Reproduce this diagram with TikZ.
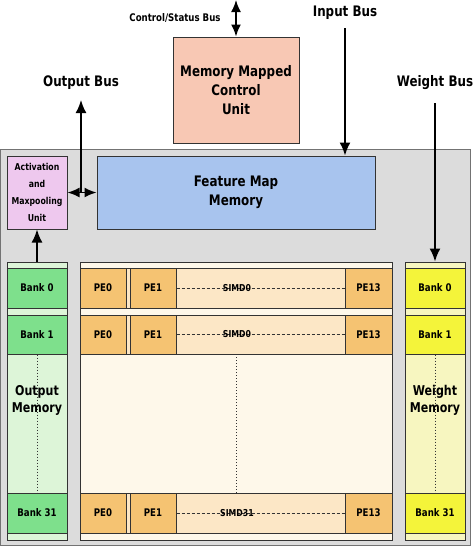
\documentclass[tikz,border=0pt]{standalone}
\usepackage{fontspec}
\setmainfont{DejaVu Sans}[FakeStretch=0.82]
\usetikzlibrary{arrows.meta}
\definecolor{bggray}{HTML}{DCDCDC}
\definecolor{salmon}{HTML}{F8C8B4}
\definecolor{pinkc}{HTML}{EEC8EE}
\definecolor{bluec}{HTML}{A8C4EE}
\definecolor{lgreen}{HTML}{DDF5D8}
\definecolor{gbank}{HTML}{7EE08C}
\definecolor{cream}{HTML}{FEF8EA}
\definecolor{rowc}{HTML}{FCE7C6}
\definecolor{pec}{HTML}{F5C372}
\definecolor{lyellow}{HTML}{F7F6C0}
\definecolor{ybank}{HTML}{F4F43A}
\definecolor{edge}{HTML}{333333}
\tikzset{
  blk/.style={draw=edge, line width=1pt, inner sep=0pt, align=center, font=\bfseries},
  bigtxt/.style={font=\bfseries\fontsize{14.5}{19}\selectfont, align=center},
  smalltxt/.style={font=\bfseries\fontsize{10.5}{12}\selectfont},
  banktxt/.style={font=\bfseries\fontsize{10.5}{12}\selectfont},
  arr/.style={line width=1.7pt, -{Latex[length=13pt,width=11pt]}},
  darr/.style={line width=1.7pt, {Latex[length=12pt,width=10pt]}-{Latex[length=12pt,width=10pt]}},
  dotl/.style={line width=1pt, dotted, draw=edge},
  dashl/.style={line width=0.7pt, densely dashed, draw=edge},
}
\begin{document}
\begin{tikzpicture}[x=1pt,y=-1pt]
\useasboundingbox[fill=white] (0,0) rectangle (474,547);
% gray background
\node[blk, draw=black!55, fill=bggray, minimum width=469.5pt, minimum height=396pt] (bg) at (235.25,347) {};
% control unit
\node[blk, fill=salmon, minimum width=126pt, minimum height=106pt, bigtxt] (mmcu) at (236,90) {Memory Mapped\\Control\\Unit};
% activation
\node[blk, fill=pinkc, minimum width=60pt, minimum height=73pt, font=\bfseries\fontsize{9.5}{17}\selectfont] (act) at (37,192.5) {Activation\\and\\Maxpooling\\Unit};
% feature map memory
\node[blk, fill=bluec, minimum width=278pt, minimum height=73pt, bigtxt] (fmm) at (236,192.5) {Feature Map\\Memory};
% columns
\node[blk, fill=lgreen, minimum width=60pt, minimum height=278pt] (outcol) at (37,401) {};
\node[blk, fill=cream, minimum width=312pt, minimum height=278pt] (pecol) at (236,401) {};
\node[blk, fill=lyellow, minimum width=60pt, minimum height=278pt] (wcol) at (435,401) {};
% output banks
\node[blk, fill=gbank, minimum width=60pt, minimum height=40pt, banktxt] (ob0) at (37,288) {Bank 0};
\node[blk, fill=gbank, minimum width=60pt, minimum height=39pt, banktxt] (ob1) at (37,334.5) {Bank 1};
\node[blk, fill=gbank, minimum width=60pt, minimum height=40pt, banktxt] (ob31) at (37,513) {Bank 31};
% weight banks
\node[blk, fill=ybank, minimum width=60pt, minimum height=40pt, banktxt] (wb0) at (435,288) {Bank 0};
\node[blk, fill=ybank, minimum width=60pt, minimum height=39pt, banktxt] (wb1) at (435,334.5) {Bank 1};
\node[blk, fill=ybank, minimum width=60pt, minimum height=40pt, banktxt] (wb31) at (435,513) {Bank 31};
% PE rows
\foreach \r/\y/\h/\s in {0/288/40/SIMD0, 1/334.5/39/SIMD0, 31/513/40/SIMD31}{
  \node[blk, fill=rowc, minimum width=312pt, minimum height=\h pt] (row\r) at (236,\y) {};
  \node[blk, fill=pec, minimum width=46pt, minimum height=\h pt, banktxt] (pea\r) at (103,\y) {PE0};
  \node[blk, fill=pec, minimum width=46pt, minimum height=\h pt, banktxt] (peb\r) at (153,\y) {PE1};
  \node[blk, fill=pec, minimum width=47pt, minimum height=\h pt, banktxt] (pec\r) at (368.5,\y) {PE13};
  \draw[dashl] (peb\r.east) -- (pec\r.west);
  \node[font=\bfseries\fontsize{9.5}{11}\selectfont, inner sep=0pt] (simd\r) at (237,\y) {\s};
}
% dotted lines
\draw[dotl] (ob1.south) -- (ob31.north);
\draw[dotl] (wb1.south) -- (wb31.north);
\coordinate (pd1) at (236,354);
\coordinate (pd2) at (236,493);
\draw[dotl] (pd1) -- (pd2);
% memory labels
\node[bigtxt, font=\bfseries\fontsize{13.5}{17}\selectfont, inner sep=0pt] (omtxt) at (37,400) {Output\\Memory};
\node[bigtxt, font=\bfseries\fontsize{13.5}{17}\selectfont, inner sep=0pt] (wmtxt) at (435,400) {Weight\\Memory};
% bus labels
\node[smalltxt, inner sep=0pt] (csb) at (175,18) {Control/Status Bus};
\node[bigtxt, inner sep=0pt] (ibt) at (345,13) {Input Bus};
\node[bigtxt, inner sep=0pt] (obt) at (81,83) {Output Bus};
\node[bigtxt, inner sep=0pt] (wbt) at (435,83) {Weight Bus};
% arrows
\coordinate (cstop) at (236,0);
\draw[darr] (cstop) -- (mmcu.north);
\coordinate (ib) at (345,28);
\draw[arr] (ib) -- (ib |- fmm.north);
\coordinate (wbc) at (435,103);
\draw[arr] (wbc) -- (wcol.north);
\draw[arr] (outcol.north) -- (act.south);
\draw[darr] (act.east) -- (fmm.west);
\coordinate (jn) at (81,192.5);
\coordinate (ob) at (81,100);
\draw[arr] (jn) -- (ob);
\end{tikzpicture}
\end{document}
